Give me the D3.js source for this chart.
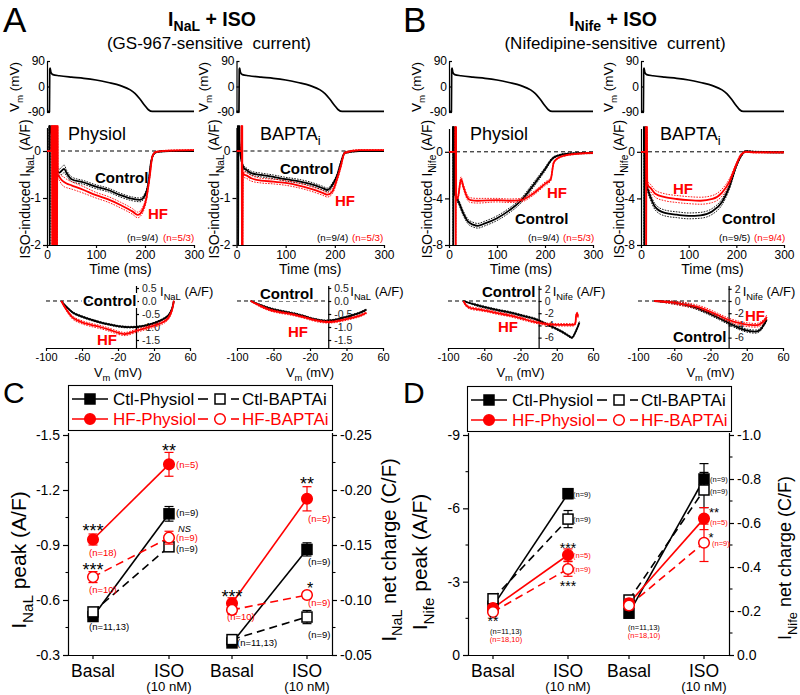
<!DOCTYPE html>
<html><head><meta charset="utf-8">
<script src="https://cdn.jsdelivr.net/npm/d3@7"></script>
<style>body{margin:0;background:#fff}svg{font-family:"Liberation Sans",Arial,sans-serif}</style>
</head><body>
<script>
// ---------------- DATA ----------------
const traceTicksX = [0, 100, 200, 300];
const apTicks = [90, 0, -90];
const apTime = [0, 5, 5.6, 6.5, 8, 12, 25, 50, 75, 100, 125, 150, 170, 180, 190, 200, 207, 215, 225, 300];
const apVm   = [-88, -88, 60, 65, 50, 42, 38, 33, 29, 23, 14, 3, -12, -25, -45, -68, -82, -88, -88, -88];

// A: I_NaL (GS-967-sensitive), Physiol
const naPhysCtlT = [0, 4.5, 5, 5.5, 6, 8, 12, 18, 25, 30, 35, 40, 50, 75, 100, 125, 150, 175, 190, 200, 207, 212, 218, 225, 250, 300];
const naPhysCtlI = [0, 0, 3, -3, 3, 0.6, 0.2, -0.3, -0.46, -0.42, -0.38, -0.47, -0.6, -0.67, -0.76, -0.83, -0.94, -1.02, -1.04, -0.94, -0.68, -0.26, -0.06, -0.02, 0, 0];
const naPhysCtlS = [0, 0, 0, 0, 0, 0.05, 0.05, 0.06, 0.07, 0.08, 0.08, 0.06, 0.05, 0.04, 0.04, 0.04, 0.04, 0.04, 0.04, 0.04, 0.04, 0.03, 0.02, 0.01, 0.01, 0.01];
const naPhysHFT = [0, 9, 10, 10.7, 11.4, 12.1, 12.8, 13.5, 14.2, 14.9, 15.6, 16.3, 17, 17.7, 18.4, 19.1, 19.8, 20.5, 21.2, 22, 25, 30, 35, 40, 50, 75, 100, 125, 150, 175, 185, 195, 203, 210, 215, 222, 250, 300];
const naPhysHFI = [0, 0, 3, -3, 3, -3, 3, -3, 3, -3, 3, -3, 3, -3, 3, -3, 3, -3, 3, -0.5, -0.55, -0.62, -0.66, -0.69, -0.73, -0.83, -0.94, -1.03, -1.15, -1.29, -1.36, -1.26, -1.0, -0.51, -0.12, -0.02, 0.01, 0.02];
const naPhysHFS = [0, 0, 0, 0, 0, 0, 0, 0, 0, 0, 0, 0, 0, 0, 0, 0, 0, 0, 0, 0.06, 0.07, 0.09, 0.1, 0.09, 0.08, 0.07, 0.06, 0.06, 0.06, 0.06, 0.06, 0.06, 0.05, 0.04, 0.02, 0.01, 0.01, 0.01];
// A: BAPTAi
const naBapCtlT = [0, 2.5, 3, 3.5, 4, 6, 10, 15, 20, 30, 50, 75, 100, 125, 150, 175, 185, 195, 205, 212, 220, 250, 300];
const naBapCtlI = [0, 0, 3, -3, 3, 0.2, -0.2, -0.36, -0.4, -0.47, -0.51, -0.55, -0.6, -0.64, -0.7, -0.79, -0.83, -0.72, -0.51, -0.26, -0.04, 0, 0];
const naBapCtlS = [0, 0, 0, 0, 0, 0.03, 0.03, 0.04, 0.04, 0.04, 0.04, 0.04, 0.04, 0.04, 0.04, 0.04, 0.04, 0.04, 0.04, 0.03, 0.02, 0.01, 0.01];
const naBapHFT = [0, 10, 10.5, 11, 11.5, 12, 13, 15, 20, 30, 50, 75, 100, 125, 150, 175, 185, 195, 205, 212, 220, 250, 300];
const naBapHFI = [0, 0, 3, -3, 3, -3, -0.45, -0.5, -0.52, -0.58, -0.63, -0.65, -0.68, -0.73, -0.8, -0.89, -0.93, -0.86, -0.58, -0.33, -0.04, 0.02, 0.02];
const naBapHFS = [0, 0, 0, 0, 0, 0, 0.06, 0.06, 0.06, 0.06, 0.05, 0.05, 0.05, 0.05, 0.05, 0.05, 0.05, 0.05, 0.05, 0.04, 0.02, 0.01, 0.01];

// B: I_Nife (nifedipine-sensitive), Physiol
const nifePhysCtlT = [0, 8, 8.5, 9, 9.5, 12, 15, 20, 30, 40, 50, 60, 75, 100, 125, 150, 175, 200, 215, 225, 250, 300];
const nifePhysCtlI = [0, 0, 12, -12, 12, -3.5, -3.9, -4.3, -5.3, -6.0, -6.25, -6.35, -6.15, -5.7, -5.05, -4.2, -2.9, -1.5, -0.6, -0.35, -0.15, -0.1];
const nifePhysCtlS = [0, 0, 0, 0, 0, 0.2, 0.2, 0.2, 0.2, 0.2, 0.2, 0.2, 0.2, 0.2, 0.2, 0.2, 0.2, 0.15, 0.1, 0.05, 0.05, 0.05];
const nifePhysHFT = [0, 13, 13.5, 14, 14.5, 15, 18, 25, 30, 38, 45, 60, 100, 125, 150, 175, 200, 212, 218, 225, 250, 300];
const nifePhysHFI = [0, 0, 12, -12, 12, -4.0, -4.0, -2.35, -3.0, -3.9, -4.15, -4.2, -4.15, -4.2, -4.15, -3.6, -2.75, -2.35, -0.95, -0.6, -0.25, -0.1];
const nifePhysHFS = [0, 0, 0, 0, 0, 0.15, 0.15, 0.2, 0.2, 0.2, 0.2, 0.2, 0.15, 0.15, 0.15, 0.15, 0.15, 0.15, 0.1, 0.05, 0.05, 0.05];
// B: BAPTAi
const nifeBapCtlT = [0, 6, 6.5, 7, 7.5, 10, 15, 20, 30, 50, 75, 100, 125, 150, 170, 185, 200, 210, 220, 240, 300];
const nifeBapCtlI = [0, 0, 12, -12, 12, -2.5, -3.33, -3.9, -4.75, -5.25, -5.4, -5.5, -5.45, -5.1, -4.3, -3.05, -1.2, -0.35, 0.05, 0.0, -0.05];
const nifeBapCtlS = [0, 0, 0, 0, 0, 0.2, 0.25, 0.25, 0.25, 0.25, 0.25, 0.25, 0.25, 0.25, 0.25, 0.2, 0.15, 0.1, 0.05, 0.05, 0.05];
const nifeBapHFT = [0, 10, 10.5, 11, 11.5, 13, 15, 20, 30, 50, 75, 100, 125, 150, 170, 185, 200, 210, 220, 240, 300];
const nifeBapHFI = [0, 0, 12, -12, 12, -2.6, -2.9, -3.1, -3.6, -3.9, -4.05, -4.15, -4.2, -4.05, -3.5, -2.6, -1.1, -0.25, 0.0, -0.05, -0.05];
const nifeBapHFS = [0, 0, 0, 0, 0, 0.3, 0.3, 0.3, 0.3, 0.3, 0.3, 0.3, 0.3, 0.3, 0.3, 0.25, 0.15, 0.1, 0.05, 0.05, 0.05];

// Current-voltage loops
const loopVTicks = [-100, -60, -20, 20, 60];
const loopNaTicks = [0.5, 0, -0.5, -1, -1.5];
const loopNifeTicks = [2, 0, -2, -4, -6];
const loopNaPhysV   = [-83, -78, -70, -60, -50, -40, -30, -20, -12, 0, 10, 20, 30, 36, 40, 42];
const loopNaPhysCtl = [0, -0.2, -0.45, -0.6, -0.72, -0.82, -0.9, -0.97, -1.0, -1.0, -0.95, -0.85, -0.7, -0.55, -0.3, 0.0];
const loopNaPhysHF  = [0, -0.3, -0.65, -0.82, -0.92, -1.0, -1.1, -1.22, -1.27, -1.15, -1.05, -0.95, -0.82, -0.65, -0.35, 0.0];
const loopNaPhysCtlS = [0, 0.02, 0.03, 0.03, 0.03, 0.03, 0.03, 0.03, 0.03, 0.03, 0.03, 0.03, 0.03, 0.03, 0.03, 0.02];
const loopNaPhysHFS  = [0, 0.04, 0.06, 0.06, 0.06, 0.06, 0.06, 0.06, 0.06, 0.06, 0.06, 0.06, 0.06, 0.06, 0.05, 0.04];
const loopNaBapV   = [-85, -75, -65, -55, -45, -35, -25, -15, -5, 5, 15, 25, 35, 42];
const loopNaBapCtl = [0, -0.15, -0.27, -0.36, -0.43, -0.5, -0.6, -0.7, -0.76, -0.74, -0.66, -0.56, -0.45, -0.33];
const loopNaBapHF  = [0, -0.18, -0.33, -0.42, -0.48, -0.55, -0.64, -0.74, -0.8, -0.8, -0.74, -0.66, -0.56, -0.45];
const loopNaBapCtlS = [0, 0.03, 0.03, 0.03, 0.03, 0.03, 0.03, 0.03, 0.03, 0.03, 0.03, 0.03, 0.03, 0.03];
const loopNaBapHFS  = [0, 0.04, 0.04, 0.04, 0.04, 0.04, 0.04, 0.04, 0.04, 0.04, 0.04, 0.04, 0.04, 0.04];
const loopNifePhysCtlV = [-83, -70, -57, -45, -31, -18, -5, 9, 24, 32, 37, 40, 43, 45];
const loopNifePhysCtl  = [0, -0.6, -1.1, -1.5, -1.9, -2.4, -2.9, -3.8, -4.9, -5.6, -6.0, -5.3, -4.3, -3.5];
const loopNifePhysCtlS = [0, 0.15, 0.15, 0.15, 0.15, 0.15, 0.15, 0.15, 0.15, 0.15, 0.15, 0.15, 0.15, 0.15];
const loopNifePhysHFV = [-83, -80, -76, -65, -57, -45, -31, -18, -5, 9, 20, 30, 37, 40, 41.5, 42.5, 43.5];
const loopNifePhysHF  = [0, -0.7, -1.1, -1.4, -1.6, -2.0, -2.4, -2.9, -3.4, -3.8, -3.9, -3.9, -3.9, -3.8, -2.3, -2.0, -2.6];
const loopNifePhysHFS = [0, 0.2, 0.2, 0.2, 0.2, 0.2, 0.2, 0.2, 0.2, 0.2, 0.2, 0.2, 0.2, 0.2, 0.2, 0.2, 0.2];
const loopNifeBapV   = [-82, -65, -51, -38, -25.6, -12, 0, 11, 22, 33, 40, 42];
const loopNifeBapCtl = [0, -0.2, -0.5, -1.0, -1.75, -2.7, -3.6, -4.4, -4.9, -4.9, -3.6, -3.0];
const loopNifeBapHF  = [0, -0.2, -0.5, -0.85, -1.4, -2.3, -3.1, -3.6, -3.9, -3.9, -3.1, -2.6];
const loopNifeBapCtlS = [0, 0.2, 0.25, 0.25, 0.25, 0.25, 0.25, 0.25, 0.25, 0.25, 0.25, 0.25];
const loopNifeBapHFS  = [0, 0.2, 0.3, 0.3, 0.3, 0.3, 0.3, 0.3, 0.3, 0.3, 0.3, 0.3];

// Summary (C, D): values at [Basal, ISO]
const groups = ["Basal", "ISO"];
const seriesNames = ["Ctl-Physiol", "HF-Physiol", "Ctl-BAPTAi", "HF-BAPTAi"];
const naPeakTicks = [-1.5, -1.2, -0.9, -0.6, -0.3];
const naQTicks = [-0.25, -0.2, -0.15, -0.1, -0.05];
const nifePeakTicks = [-9, -6, -3, 0];
const nifeQTicks = [-1.0, -0.8, -0.6, -0.4, -0.2, 0.0];
const naPeakCtlPhys = [-0.51, -1.07],  naPeakCtlPhysErr = [0.02, 0.04];
const naPeakCtlBap  = [-0.535, -0.89], naPeakCtlBapErr  = [0.02, 0.02];
const naPeakHFPhys  = [-0.93, -1.34],  naPeakHFPhysErr  = [0.03, 0.065];
const naPeakHFBap   = [-0.725, -0.94], naPeakHFBapErr   = [0.03, 0.035];
const naQCtlPhys = [-0.061, -0.146],  naQCtlPhysErr = [0.004, 0.006];
const naQCtlBap  = [-0.064, -0.0845], naQCtlBapErr  = [0.003, 0.006];
const naQHFPhys  = [-0.097, -0.192],  naQHFPhysErr  = [0.005, 0.011];
const naQHFBap   = [-0.091, -0.1045], naQHFBapErr   = [0.004, 0.003];
const nifePeakCtlPhys = [-2.0, -6.6],   nifePeakCtlPhysErr = [0.15, 0.2];
const nifePeakCtlBap  = [-2.3, -5.56],  nifePeakCtlBapErr  = [0.15, 0.35];
const nifePeakHFPhys  = [-1.92, -4.09], nifePeakHFPhysErr  = [0.1, 0.25];
const nifePeakHFBap   = [-1.76, -3.52], nifePeakHFBapErr   = [0.1, 0.3];
const nifeQCtlPhys = [-0.19, -0.80],  nifeQCtlPhysErr = [0.02, 0.07];
const nifeQCtlBap  = [-0.25, -0.75],  nifeQCtlBapErr  = [0.02, 0.08];
const nifeQHFPhys  = [-0.235, -0.62], nifeQHFPhysErr  = [0.02, 0.05];
const nifeQHFBap   = [-0.225, -0.51], nifeQHFBapErr   = [0.02, 0.085];

// ---------------- DRAWING ----------------
const RED = "#f00", BLK = "#000";
const svg = d3.select("body").append("svg").attr("width", 800).attr("height", 695);
const defs = svg.append("defs");
let clipN = 0;
function clip(x, y, w, h) {
  const id = "clip" + (clipN++);
  defs.append("clipPath").attr("id", id).append("rect").attr("x", x).attr("y", y).attr("width", w).attr("height", h);
  return `url(#${id})`;
}
function rich(parent, x, y, parts, o = {}) {
  const size = o.size || 12;
  const subDy = (o.subDy != null ? o.subDy : 0.3) * size;
  const t = parent.append("text").attr("x", x).attr("y", y).attr("font-size", size)
    .attr("font-weight", o.weight || "normal").attr("fill", o.fill || BLK)
    .attr("text-anchor", o.anchor || "start").style("white-space", "pre");
  if (o.italic) t.attr("font-style", "italic");
  if (o.rotate) t.attr("transform", `rotate(${o.rotate},${o.rx},${o.ry})`);
  if (o.halo) t.attr("stroke", "#fff").attr("stroke-width", 4).attr("paint-order", "stroke");
  let inSub = false;
  parts.forEach(p => {
    const isSub = Array.isArray(p);
    const ts = t.append("tspan").text(isSub ? p[0] : p);
    if (isSub) { ts.attr("font-size", size * 0.72).attr("dy", subDy); inSub = true; }
    else if (inSub) { ts.attr("dy", -subDy); inSub = false; }
  });
  return t;
}
function vlabel(parent, cx, cy, parts, size, o = {}) {
  return rich(parent, cx, cy + 0.35 * size, parts, Object.assign({ size, anchor: "middle", rotate: -90, rx: cx, ry: cy }, o));
}
function styleAxis(sel, fs) {
  sel.attr("font-family", null).attr("font-size", fs);
  sel.selectAll("path,line").attr("stroke", BLK).attr("stroke-width", 1.2);
  sel.selectAll("text").attr("fill", BLK);
}
function drawTrace(g, xs, ys, T, M, S, color, clipUrl, curve) {
  const pts = T.map((t, i) => [t, M[i], S ? S[i] : 0]);
  const gg = g.append("g").attr("clip-path", clipUrl);
  if (S) {
    [1, -1].forEach(sg => {
      gg.append("path").attr("d", d3.line().x(d => xs(d[0])).y(d => ys(d[1] + sg * d[2])).curve(curve)(pts))
        .attr("fill", "none").attr("stroke", color).attr("stroke-width", 0.9).attr("stroke-dasharray", "1.6,1.2");
    });
  }
  gg.append("path").attr("d", d3.line().x(d => xs(d[0])).y(d => ys(d[1])).curve(curve)(pts))
    .attr("fill", "none").attr("stroke", color).attr("stroke-width", 1.8);
}

function tracePanel(o) {
  const g = svg.append("g");
  const x = d3.scaleLinear().domain([0, 300]).range([o.x0, o.x1]);
  // action potential
  const yA = d3.scaleLinear().domain([-90, 90]).range([112, 61]);
  const apAx = g.append("g").attr("transform", `translate(${o.x0},0)`)
    .call(d3.axisLeft(yA).tickValues(apTicks).tickSize(-3).tickSizeOuter(0).tickPadding(2).tickFormat(d => String(d)));
  styleAxis(apAx, 12);
  g.append("path").attr("d", d3.line().x((d, i) => x(apTime[i])).y(d => yA(d)).curve(d3.curveMonotoneX)(apVm))
    .attr("fill", "none").attr("stroke", BLK).attr("stroke-width", 1.7);
  vlabel(g, o.x0 - 33, 87, ["V", ["m"], " (mV)"], 13.5);
  // current
  const yC = d3.scaleLinear().domain(o.cDom).range(o.cRng);
  const yAx = g.append("g").attr("transform", `translate(${o.x0},0)`)
    .call(d3.axisLeft(yC).tickValues(o.cTicks).tickSize(4).tickSizeOuter(0).tickPadding(2).tickFormat(d => String(d)));
  styleAxis(yAx, 12);
  const xAx = g.append("g").attr("transform", `translate(0,${o.cRng[1]})`)
    .call(d3.axisBottom(x).tickValues(traceTicksX).tickSize(3).tickSizeOuter(0).tickPadding(2));
  styleAxis(xAx, 12);
  rich(g, (o.x0 + o.x1) / 2, 274, ["Time (ms)"], { size: 14, anchor: "middle" });
  g.append("line").attr("x1", x(0)).attr("x2", x(300)).attr("y1", yC(0)).attr("y2", yC(0))
    .attr("stroke", BLK).attr("stroke-width", 1).attr("stroke-dasharray", "4,3");
  const cl = clip(o.x0, o.cRng[0] - 2, o.x1 - o.x0 + 2, o.cRng[1] - o.cRng[0] + 2);
  o.series.forEach(s => drawTrace(g, x, yC, s.T, s.M, s.S, s.c, cl, d3.curveMonotoneX));
  vlabel(g, o.x0 - 22, 189, ["ISO-induced I", [o.sub], " (A/F)"], 14);
  return g;
}

tracePanel({ x0: 47, x1: 194, cDom: [0.5, -2], cRng: [127.5, 245], cTicks: [0, -1, -2], sub: "NaL",
  series: [{ T: naPhysCtlT, M: naPhysCtlI, S: naPhysCtlS, c: BLK }, { T: naPhysHFT, M: naPhysHFI, S: naPhysHFS, c: RED }] });
tracePanel({ x0: 236.5, x1: 384, cDom: [0.5, -2], cRng: [127.5, 245], cTicks: [0, -1, -2], sub: "NaL",
  series: [{ T: naBapCtlT, M: naBapCtlI, S: naBapCtlS, c: BLK }, { T: naBapHFT, M: naBapHFI, S: naBapHFS, c: RED }] });
tracePanel({ x0: 449, x1: 593, cDom: [2, -8], cRng: [128.5, 245], cTicks: [0, -4, -8], sub: "Nife",
  series: [{ T: nifePhysCtlT, M: nifePhysCtlI, S: nifePhysCtlS, c: BLK }, { T: nifePhysHFT, M: nifePhysHFI, S: nifePhysHFS, c: RED }] });
tracePanel({ x0: 641, x1: 784, cDom: [2, -8], cRng: [128.5, 245], cTicks: [0, -4, -8], sub: "Nife",
  series: [{ T: nifeBapCtlT, M: nifeBapCtlI, S: nifeBapCtlS, c: BLK }, { T: nifeBapHFT, M: nifeBapHFI, S: nifeBapHFS, c: RED }] });

// panel letters & titles
rich(svg, 3, 32, ["A"], { size: 35 });
rich(svg, 403, 32, ["B"], { size: 35 });
rich(svg, 212, 26, ["I", ["NaL"], " + ISO"], { size: 19.5, weight: "bold", anchor: "middle", subDy: 0.26 });
rich(svg, 209, 49, ["(GS-967-sensitive\u00a0 current)"], { size: 17, anchor: "middle" });
rich(svg, 613, 26, ["I", ["Nife"], " + ISO"], { size: 19.5, weight: "bold", anchor: "middle", subDy: 0.26 });
rich(svg, 615, 49, ["(Nifedipine-sensitive\u00a0 current)"], { size: 17, anchor: "middle" });

// trace panel annotations
rich(svg, 68, 140, ["Physiol"], { size: 18 });
rich(svg, 260, 140, ["BAPTA", ["i"]], { size: 18 });
rich(svg, 470, 140, ["Physiol"], { size: 18 });
rich(svg, 660, 140, ["BAPTA", ["i"]], { size: 18 });
rich(svg, 95, 183, ["Control"], { size: 15, weight: "bold" });
rich(svg, 148, 219, ["HF"], { size: 15, weight: "bold", fill: RED });
rich(svg, 280, 174, ["Control"], { size: 15, weight: "bold" });
rich(svg, 335, 206, ["HF"], { size: 15, weight: "bold", fill: RED });
rich(svg, 547, 198, ["HF"], { size: 15, weight: "bold", fill: RED });
rich(svg, 515, 224, ["Control"], { size: 15, weight: "bold" });
rich(svg, 673, 194, ["HF"], { size: 15, weight: "bold", fill: RED });
rich(svg, 722, 224, ["Control"], { size: 15, weight: "bold" });
[[127, "(n=9/4)", BLK], [163, "(n=5/3)", RED], [317, "(n=9/4)", BLK], [352, "(n=5/3)", RED],
 [528, "(n=9/4)", BLK], [563, "(n=5/3)", RED], [719, "(n=9/5)", BLK], [754, "(n=9/4)", RED]]
  .forEach(([xx, t, c]) => rich(svg, xx, 240.5, [t], { size: 9.8, fill: c }));

// ---------------- I-V loops ----------------
function loopPanel(o) {
  const g = svg.append("g");
  const x = d3.scaleLinear().domain([-100, 60]).range([o.xa, o.xb]);
  const y = d3.scaleLinear().domain(o.dom).range([288, 348]);
  const xAx = g.append("g").attr("transform", "translate(0,348)")
    .call(d3.axisBottom(x).tickValues(loopVTicks).tickSize(3).tickSizeOuter(0).tickPadding(2).tickFormat(d => String(d)));
  styleAxis(xAx, 11);
  const yAx = g.append("g").attr("transform", `translate(${x(0)},0)`)
    .call(d3.axisRight(y).tickValues(o.ticks).tickSize(3).tickSizeOuter(0).tickPadding(3).tickFormat(o.fmt));
  styleAxis(yAx, 10.5);
  yAx.select(".domain").attr("d", `M0.5,286V348`);
  yAx.selectAll("text").attr("fill", "#222");
  g.append("line").attr("x1", x(-100)).attr("x2", x(0)).attr("y1", y(0)).attr("y2", y(0))
    .attr("stroke", BLK).attr("stroke-width", 1).attr("stroke-dasharray", "4,3");
  rich(g, x(0) + o.titleDx, 296, ["I", [o.sub], " (A/F)"], { size: 13 });
  rich(g, (o.xa + o.xb) / 2, 377, ["V", ["m"], " (mV)"], { size: 13, anchor: "middle" });
  const cl = clip(o.xa, 280, o.xb - o.xa, 70);
  o.series.forEach(s => drawTrace(g, x, y, s.V, s.I, s.S, s.c, cl, d3.curveCatmullRom));
  return g;
}
const f1 = d => d.toFixed(1);
loopPanel({ xa: 46, xb: 190, dom: [0.5, -1.8077], ticks: loopNaTicks, fmt: f1, sub: "NaL", titleDx: 24,
  series: [{ V: loopNaPhysV, I: loopNaPhysCtl, S: loopNaPhysCtlS, c: BLK }, { V: loopNaPhysV, I: loopNaPhysHF, S: loopNaPhysHFS, c: RED }] });
loopPanel({ xa: 237, xb: 383, dom: [0.5, -1.8077], ticks: loopNaTicks, fmt: f1, sub: "NaL", titleDx: 22,
  series: [{ V: loopNaBapV, I: loopNaBapCtl, S: loopNaBapCtlS, c: BLK }, { V: loopNaBapV, I: loopNaBapHF, S: loopNaBapHFS, c: RED }] });
loopPanel({ xa: 448, xb: 593, dom: [2.13, -7.7], ticks: loopNifeTicks, fmt: d => String(d), sub: "Nife", titleDx: 14,
  series: [{ V: loopNifePhysCtlV, I: loopNifePhysCtl, S: loopNifePhysCtlS, c: BLK }, { V: loopNifePhysHFV, I: loopNifePhysHF, S: loopNifePhysHFS, c: RED }] });
loopPanel({ xa: 638, xb: 783, dom: [2.13, -7.7], ticks: loopNifeTicks, fmt: d => String(d), sub: "Nife", titleDx: 14,
  series: [{ V: loopNifeBapV, I: loopNifeBapCtl, S: loopNifeBapCtlS, c: BLK }, { V: loopNifeBapV, I: loopNifeBapHF, S: loopNifeBapHFS, c: RED }] });
rich(svg, 83, 306, ["Control"], { size: 15, weight: "bold", halo: true });
rich(svg, 97, 345, ["HF"], { size: 15, weight: "bold", fill: RED });
rich(svg, 260, 299, ["Control"], { size: 15, weight: "bold", halo: true });
rich(svg, 288, 337, ["HF"], { size: 15, weight: "bold", fill: RED });
rich(svg, 482, 297, ["Control"], { size: 15, weight: "bold", halo: true });
rich(svg, 498, 332, ["HF"], { size: 15, weight: "bold", fill: RED });
rich(svg, 745, 321, ["HF"], { size: 15, weight: "bold", fill: RED });
rich(svg, 673, 342, ["Control"], { size: 15, weight: "bold" });

// ---------------- Summary panels ----------------
function marker(g, cx, cy, shape, c, filled) {
  if (shape === "sq") g.append("rect").attr("x", cx - 5).attr("y", cy - 5).attr("width", 10).attr("height", 10)
    .attr("fill", filled ? c : "#fff").attr("stroke", c).attr("stroke-width", 1.5);
  else g.append("circle").attr("cx", cx).attr("cy", cy).attr("r", 5.3)
    .attr("fill", filled ? c : "#fff").attr("stroke", c).attr("stroke-width", 1.5);
}
function drawSummary(g, xs, ys, list) {
  list.forEach(s => {
    g.append("path").attr("d", d3.line().x((d, i) => xs(groups[i])).y(d => ys(d))(s.v))
      .attr("fill", "none").attr("stroke", s.c).attr("stroke-width", 1.6).attr("stroke-dasharray", s.dash ? "8,5" : null);
  });
  list.forEach(s => {
    s.v.forEach((v, i) => {
      const cx = xs(groups[i]), e = s.e[i];
      g.append("line").attr("x1", cx).attr("x2", cx).attr("y1", ys(v - e)).attr("y2", ys(v + e)).attr("stroke", s.c).attr("stroke-width", 1.2);
      [v - e, v + e].forEach(w => g.append("line").attr("x1", cx - 4.5).attr("x2", cx + 4.5).attr("y1", ys(w)).attr("y2", ys(w)).attr("stroke", s.c).attr("stroke-width", 1.2));
      marker(g, cx, ys(v), s.shape, s.c, s.fill);
    });
  });
}
function summaryAxis(g, ys, side, axX, ticks, fmt, minorStep) {
  const ax = side === "left" ? d3.axisLeft(ys) : d3.axisRight(ys);
  const a = g.append("g").attr("transform", `translate(${axX},0)`)
    .call(ax.tickValues(ticks).tickSize(5).tickSizeOuter(0).tickPadding(3).tickFormat(fmt));
  styleAxis(a, 14);
  a.select(".domain").attr("d", `M0.5,433V655`);
  const d0 = ys.domain();
  const minors = d3.range(Math.min(...d0) + minorStep, Math.max(...d0), minorStep * 2);
  g.selectAll(null).data(minors).enter().append("line")
    .attr("x1", axX + 0.5).attr("x2", axX + 0.5 + (side === "left" ? -3 : 3))
    .attr("y1", d => ys(d)).attr("y2", d => ys(d)).attr("stroke", BLK).attr("stroke-width", 1.1);
}
function categoryLabels(g, xs) {
  groups.forEach(gr => {
    rich(g, xs(gr), 676.5, [gr], { size: 17.5, anchor: "middle" });
    g.append("line").attr("x1", xs(gr)).attr("x2", xs(gr)).attr("y1", 655).attr("y2", 659).attr("stroke", BLK).attr("stroke-width", 1.2);
  });
  rich(g, xs("ISO"), 691, ["(10 nM)"], { size: 13.2, anchor: "middle" });
}
function legend(g, bx, by) {
  g.append("rect").attr("x", bx + 0.5).attr("y", by + 0.5).attr("width", 264).attr("height", 45)
    .attr("fill", "#fff").attr("stroke", BLK).attr("stroke-width", 1.1);
  const rows = [[by + 14, BLK, "sq"], [by + 34, RED, "ci"]];
  rows.forEach(([ry, c, sh], i) => {
    g.append("line").attr("x1", bx + 4).attr("x2", bx + 40).attr("y1", ry).attr("y2", ry).attr("stroke", c).attr("stroke-width", 1.6);
    marker(g, bx + 22, ry, sh, c, true);
    rich(g, bx + 45, ry + 6, [seriesNames[i]], { size: 17, fill: c });
    [[bx + 130, bx + 140], [bx + 163, bx + 171]].forEach(([a, b]) =>
      g.append("line").attr("x1", a).attr("x2", b).attr("y1", ry).attr("y2", ry).attr("stroke", c).attr("stroke-width", 1.6));
    marker(g, bx + 152, ry, sh, c, false);
    rich(g, bx + 174, ry + 6, [seriesNames[i + 2]], { size: 17, fill: c });
  });
}
function star(g, cx, cy, s, size, c = BLK) { rich(g, cx, cy + 0.58 * size, [s], { size, anchor: "middle", fill: c }); }
function nlab(g, x, cy, s, size, c, anchor = "start") { rich(g, x, cy + 0.36 * size, [s], { size, fill: c, anchor }); }
const fmt2 = d => d.toFixed(2), fmt1 = d => d.toFixed(1), fmt0 = d => String(d);

// ---- C ----
{
  const g = svg.append("g");
  rich(g, 3, 403, ["C"], { size: 30 });
  legend(g, 68, 385);
  const xL = d3.scalePoint().domain(groups).range([93, 169]);
  const yL = d3.scaleLinear().domain([-1.5, -0.3]).range([435, 655]);
  const xR = d3.scalePoint().domain(groups).range([232, 307]);
  const yR = d3.scaleLinear().domain([-0.25, -0.05]).range([435, 655]);
  g.append("line").attr("x1", 68).attr("x2", 332.5).attr("y1", 655.5).attr("y2", 655.5).attr("stroke", BLK).attr("stroke-width", 1.2);
  summaryAxis(g, yL, "left", 68, naPeakTicks, fmt1, 0.15);
  summaryAxis(g, yR, "right", 332, naQTicks, fmt2, 0.025);
  categoryLabels(g, xL); categoryLabels(g, xR);
  vlabel(g, 19, 560, ["I", ["NaL"], " peak (A/F)"], 21);
  vlabel(g, 389, 550, ["I", ["NaL"], " net charge (C/F)"], 20);
  drawSummary(g, xL, yL, [
    { v: naPeakCtlPhys, e: naPeakCtlPhysErr, c: BLK, shape: "sq", fill: true },
    { v: naPeakCtlBap, e: naPeakCtlBapErr, c: BLK, shape: "sq", fill: false, dash: true },
    { v: naPeakHFPhys, e: naPeakHFPhysErr, c: RED, shape: "ci", fill: true },
    { v: naPeakHFBap, e: naPeakHFBapErr, c: RED, shape: "ci", fill: false, dash: true }]);
  drawSummary(g, xR, yR, [
    { v: naQCtlPhys, e: naQCtlPhysErr, c: BLK, shape: "sq", fill: true },
    { v: naQCtlBap, e: naQCtlBapErr, c: BLK, shape: "sq", fill: false, dash: true },
    { v: naQHFPhys, e: naQHFPhysErr, c: RED, shape: "ci", fill: true },
    { v: naQHFBap, e: naQHFBapErr, c: RED, shape: "ci", fill: false, dash: true }]);
  star(g, 93, 527, "***", 18); nlab(g, 89, 553, "(n=18)", 9.5, RED);
  star(g, 93, 566, "***", 18); nlab(g, 89, 590, "(n=10)", 9.5, RED);
  nlab(g, 89, 627, "(n=11,13)", 9.5, BLK);
  star(g, 169, 447, "**", 18); nlab(g, 176, 465, "(n=5)", 9.5, RED);
  nlab(g, 176, 513, "(n=9)", 9.5, BLK);
  rich(g, 178, 532, ["NS"], { size: 9.2, italic: true });
  nlab(g, 176, 538, "(n=9)", 9.2, RED);
  nlab(g, 176, 548.5, "(n=9)", 9.2, BLK);
  star(g, 232, 593, "***", 18); nlab(g, 227, 617, "(n=10)", 9.5, RED);
  nlab(g, 237, 643, "(n=11,13)", 9.5, BLK);
  star(g, 307, 480, "**", 18); nlab(g, 308, 519, "(n=5)", 9.5, RED);
  nlab(g, 308, 562, "(n=9)", 9.5, BLK);
  star(g, 310, 585, "*", 16);
  nlab(g, 308, 602.5, "(n=9)", 9.5, RED);
  nlab(g, 308, 635, "(n=9)", 9.5, BLK);
}
// ---- D ----
{
  const g = svg.append("g");
  rich(g, 403, 403, ["D"], { size: 30 });
  legend(g, 467, 386);
  const xL = d3.scalePoint().domain(groups).range([493, 568]);
  const yL = d3.scaleLinear().domain([-9, 0]).range([435, 655]);
  const xR = d3.scalePoint().domain(groups).range([629, 704]);
  const yR = d3.scaleLinear().domain([-1.0, 0]).range([435, 655]);
  g.append("line").attr("x1", 468).attr("x2", 729.5).attr("y1", 655.5).attr("y2", 655.5).attr("stroke", BLK).attr("stroke-width", 1.2);
  summaryAxis(g, yL, "left", 468, nifePeakTicks, fmt0, 1.5);
  summaryAxis(g, yR, "right", 729, nifeQTicks, fmt1, 0.1);
  categoryLabels(g, xL); categoryLabels(g, xR);
  vlabel(g, 420, 562, ["I", ["Nife"], " peak (A/F)"], 21);
  vlabel(g, 785, 558, ["I", ["Nife"], " net charge (C/F)"], 18);
  drawSummary(g, xL, yL, [
    { v: nifePeakCtlPhys, e: nifePeakCtlPhysErr, c: BLK, shape: "sq", fill: true },
    { v: nifePeakCtlBap, e: nifePeakCtlBapErr, c: BLK, shape: "sq", fill: false, dash: true },
    { v: nifePeakHFPhys, e: nifePeakHFPhysErr, c: RED, shape: "ci", fill: true },
    { v: nifePeakHFBap, e: nifePeakHFBapErr, c: RED, shape: "ci", fill: false, dash: true }]);
  drawSummary(g, xR, yR, [
    { v: nifeQCtlPhys, e: nifeQCtlPhysErr, c: BLK, shape: "sq", fill: true },
    { v: nifeQCtlBap, e: nifeQCtlBapErr, c: BLK, shape: "sq", fill: false, dash: true },
    { v: nifeQHFPhys, e: nifeQHFPhysErr, c: RED, shape: "ci", fill: true },
    { v: nifeQHFBap, e: nifeQHFBapErr, c: RED, shape: "ci", fill: false, dash: true }]);
  star(g, 493, 618, "**", 14);
  nlab(g, 506, 631, "(n=11,13)", 7.5, BLK, "middle");
  nlab(g, 506, 639, "(n=18,10)", 7.5, RED, "middle");
  nlab(g, 573, 494, "(n=9)", 7.5, BLK);
  nlab(g, 573, 519, "(n=9)", 7.5, BLK);
  star(g, 568, 545, "***", 14);
  nlab(g, 573, 555, "(n=5)", 7.5, RED);
  nlab(g, 573, 569, "(n=9)", 7.5, RED);
  star(g, 568, 583, "***", 14);
  nlab(g, 644, 627, "(n=11,13)", 7.5, BLK, "middle");
  nlab(g, 644, 635, "(n=18,10)", 7.5, RED, "middle");
  nlab(g, 710, 479, "(n=9)", 7.5, BLK);
  nlab(g, 710, 491, "(n=9)", 7.5, BLK);
  star(g, 714, 509, "**", 13);
  nlab(g, 710, 522, "(n=5)", 7.5, RED);
  star(g, 711, 534, "*", 13);
  nlab(g, 712, 543, "(n=9)", 7.5, RED);
}
</script>
</body></html>
